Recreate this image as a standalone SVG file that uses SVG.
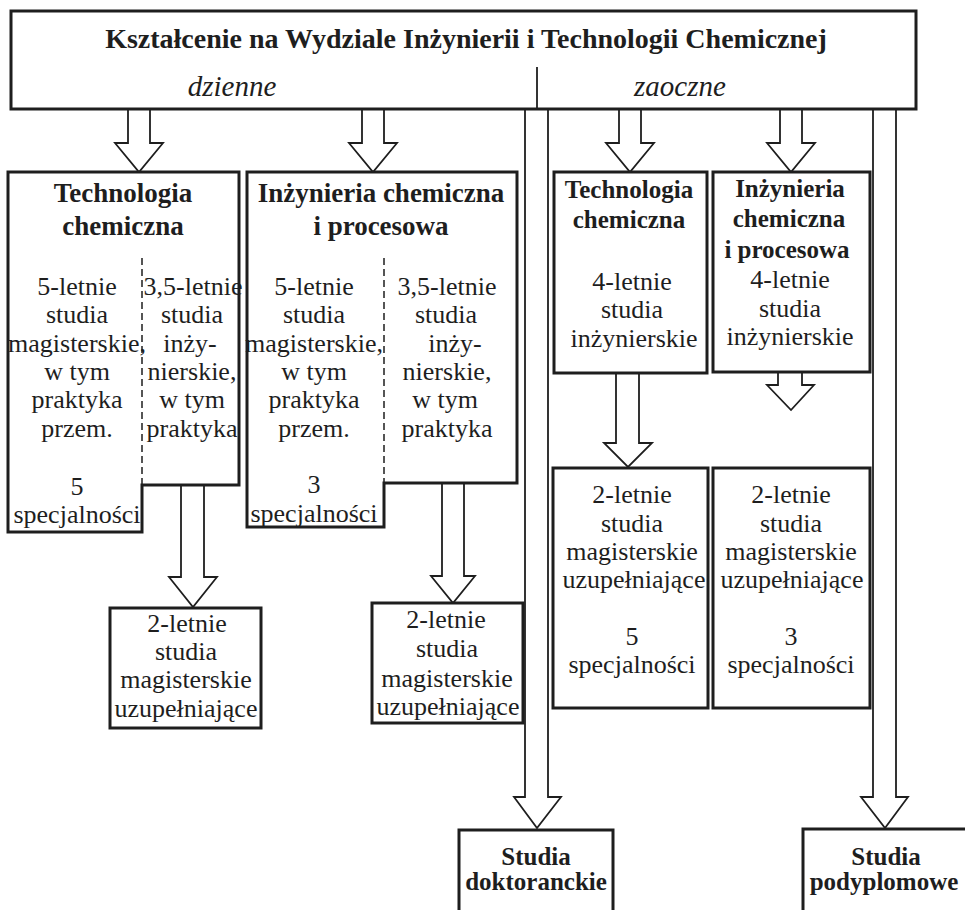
<svg xmlns="http://www.w3.org/2000/svg" width="965" height="910" viewBox="0 0 965 910">
<style>
.box{fill:#fff;stroke:#1e1e1e;stroke-width:3}
.dash{fill:none;stroke:#1e1e1e;stroke-width:1.5;stroke-dasharray:7,4}
.arr{fill:#fff;stroke:#1e1e1e;stroke-width:1.8;stroke-linejoin:miter}
text{font-family:"Liberation Serif","Times New Roman",serif;fill:#1e1e1e;text-anchor:middle}
.t{font-size:26px}
.b{font-size:27px;font-weight:bold}
.bs{font-size:25px;font-weight:bold}
.i{font-size:29px;font-style:italic}
.h{font-size:28px;font-weight:bold}
</style>
<rect width="965" height="910" fill="#fff"/>

<g id="connectors">
<path class="arr" d="M128,109 V143 H115 L139,172 L163,143 H150 V109"/>
<path class="arr" d="M362,109 V143 H349 L373,172 L397,143 H384 V109"/>
<path class="arr" d="M619,109 V143 H606 L630,172 L654,143 H641 V109"/>
<path class="arr" d="M780,109 V143 H767 L791,172 L815,143 H802 V109"/>
<path class="arr" d="M525,109 V797 H514 L537,828 L561,797 H548 V109"/>
<path class="arr" d="M873,109 V797 H861 L885,828 L908,797 H896 V109"/>
<path class="arr" d="M181,485 V577 H169 L193,607 L217,577 H204 V485"/>
<path class="arr" d="M442,483 V576 H431 L453,603 L475,576 H464 V483"/>
<path class="arr" d="M616,373 V443 H604 L628,467 L652,443 H639 V373"/>
<path class="arr" d="M778,372 V385 H767 L791,410 L814,385 H802 V372"/>
</g>

<g id="header">
<rect class="box" x="11" y="11" width="905" height="98"/>
<line x1="537" y1="67" x2="537" y2="109" stroke="#1e1e1e" stroke-width="1.8"/>
<text class="h" x="466" y="48">Kształcenie na Wydziale Inżynierii i Technologii Chemicznej</text>
<text class="i" x="232" y="96">dzienne</text>
<text class="i" x="680" y="96">zaoczne</text>
</g>

<g id="tc-dzienne">
<path class="box" d="M8,172 H239 V485 H142 V532 H8 Z"/>
<line class="dash" x1="142" y1="258" x2="142" y2="485"/>
<text class="b" x="123" y="202">Technologia</text>
<text class="b" x="123" y="235">chemiczna</text>
<text class="t" x="77" y="295">5-letnie</text>
<text class="t" x="77" y="323">studia</text>
<text class="t" x="77" y="352">magisterskie,</text>
<text class="t" x="77" y="380">w tym</text>
<text class="t" x="77" y="408">praktyka</text>
<text class="t" x="77" y="437">przem.</text>
<text class="t" x="77" y="495">5</text>
<text class="t" x="77" y="523">specjalności</text>
<text class="t" x="193" y="295">3,5-letnie</text>
<text class="t" x="192" y="323">studia</text>
<text class="t" x="190" y="352">inży-</text>
<text class="t" x="192" y="380">nierskie,</text>
<text class="t" x="192" y="408">w tym</text>
<text class="t" x="192" y="437">praktyka</text>
</g>

<g id="icp-dzienne">
<path class="box" d="M247,172 H517 V483 H384 V527 H247 Z"/>
<line class="dash" x1="384" y1="258" x2="384" y2="483"/>
<text class="b" x="381" y="202">Inżynieria chemiczna</text>
<text class="b" x="381" y="235">i procesowa</text>
<text class="t" x="314" y="295">5-letnie</text>
<text class="t" x="314" y="323">studia</text>
<text class="t" x="314" y="352">magisterskie,</text>
<text class="t" x="314" y="380">w tym</text>
<text class="t" x="314" y="408">praktyka</text>
<text class="t" x="314" y="437">przem.</text>
<text class="t" x="314" y="493">3</text>
<text class="t" x="314" y="522">specjalności</text>
<text class="t" x="447" y="295">3,5-letnie</text>
<text class="t" x="446" y="323">studia</text>
<text class="t" x="455" y="352">inży-</text>
<text class="t" x="447" y="380">nierskie,</text>
<text class="t" x="445" y="408">w tym</text>
<text class="t" x="447" y="437">praktyka</text>
</g>

<g id="mgr-tc-dzienne">
<rect class="box" x="110" y="608" width="151" height="120"/>
<text class="t" x="187" y="632">2-letnie</text>
<text class="t" x="186" y="660">studia</text>
<text class="t" x="186" y="688">magisterskie</text>
<text class="t" x="186" y="717">uzupełniające</text>
</g>

<g id="mgr-icp-dzienne">
<rect class="box" x="372" y="603" width="151" height="120"/>
<text class="t" x="446" y="628">2-letnie</text>
<text class="t" x="447" y="657">studia</text>
<text class="t" x="447" y="687">magisterskie</text>
<text class="t" x="448" y="715">uzupełniające</text>
</g>

<g id="tc-zaoczne">
<rect class="box" x="554" y="172" width="153" height="201"/>
<text class="bs" x="629" y="198">Technologia</text>
<text class="bs" x="629" y="228">chemiczna</text>
<text class="t" x="632" y="290">4-letnie</text>
<text class="t" x="632" y="318">studia</text>
<text class="t" x="634" y="347">inżynierskie</text>
</g>

<g id="icp-zaoczne">
<rect class="box" x="713" y="172" width="157" height="200"/>
<text class="bs" x="790" y="197">Inżynieria</text>
<text class="bs" x="789" y="227">chemiczna</text>
<text class="bs" x="787" y="258">i procesowa</text>
<text class="t" x="790" y="288">4-letnie</text>
<text class="t" x="790" y="317">studia</text>
<text class="t" x="790" y="345">inżynierskie</text>
</g>

<g id="mgr-tc-zaoczne">
<rect class="box" x="553" y="468" width="155" height="240"/>
<text class="t" x="632" y="503">2-letnie</text>
<text class="t" x="632" y="532">studia</text>
<text class="t" x="632" y="560">magisterskie</text>
<text class="t" x="634" y="588">uzupełniające</text>
<text class="t" x="632" y="645">5</text>
<text class="t" x="632" y="673">specjalności</text>
</g>

<g id="mgr-icp-zaoczne">
<rect class="box" x="713" y="468" width="157" height="240"/>
<text class="t" x="791" y="503">2-letnie</text>
<text class="t" x="791" y="532">studia</text>
<text class="t" x="791" y="560">magisterskie</text>
<text class="t" x="792" y="588">uzupełniające</text>
<text class="t" x="791" y="645">3</text>
<text class="t" x="791" y="673">specjalności</text>
</g>

<g id="doktoranckie">
<rect class="box" x="459" y="830" width="154" height="90"/>
<text class="bs" x="536" y="865">Studia</text>
<text class="bs" x="536" y="890">doktoranckie</text>
</g>

<g id="podyplomowe">
<rect class="box" x="803" y="829" width="170" height="90"/>
<text class="bs" x="886" y="865">Studia</text>
<text class="bs" x="884" y="890">podyplomowe</text>
</g>
</svg>
